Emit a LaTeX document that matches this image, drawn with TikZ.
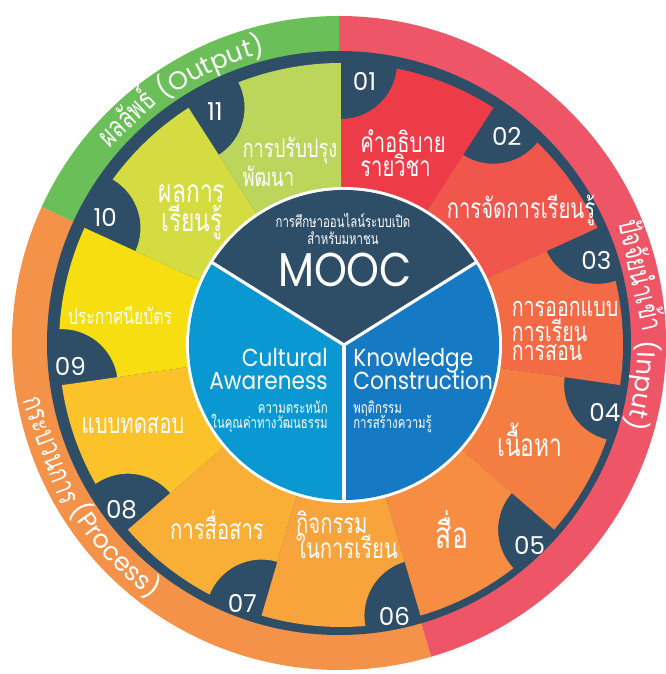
\documentclass[tikz,border=0pt]{standalone}
\usepackage{fontspec}
\setmainfont{Poppins}
\newfontfamily\thaifont[Script=Thai,FakeStretch=0.72]{Loma}
\newfontfamily\latinserre[FakeStretch=0.88]{Poppins}
\usetikzlibrary{decorations.text}

\definecolor{bleunuit}{HTML}{2E4D66}
\definecolor{vertsortie}{HTML}{6ABF58}
\definecolor{orangeproc}{HTML}{F39248}
\definecolor{rougeentree}{HTML}{EE5667}
\definecolor{sec1}{HTML}{EE3B48}
\definecolor{sec2}{HTML}{F0564B}
\definecolor{sec3}{HTML}{F26B45}
\definecolor{sec4}{HTML}{F47D41}
\definecolor{sec5}{HTML}{F68D43}
\definecolor{sec6}{HTML}{F8A33B}
\definecolor{sec7}{HTML}{F9AF36}
\definecolor{sec8}{HTML}{FBC22A}
\definecolor{sec9}{HTML}{F6DE10}
\definecolor{sec10}{HTML}{D5DC42}
\definecolor{sec11}{HTML}{BCD55B}
\definecolor{bleuclair}{HTML}{0A98D3}
\definecolor{bleufonce}{HTML}{1679C3}

\newcommand\anneauth{\thaifont\fontsize{17}{17}\selectfont\color{white}}
\newcommand\anneaulat{\normalfont\fontsize{14.5}{14.5}\selectfont\color{white}}

\tikzset{
    numero/.style={text=white, inner sep=0pt, yshift=-1.2mm, font=\fontsize{14}{14}\selectfont},
    etiquette/.style 2 args={text=white, inner sep=0pt, align=left, font=\thaifont\fontsize{#1}{#2}\selectfont},
    petit/.style={text=white, inner sep=0pt, font=\thaifont\fontsize{9}{9}\selectfont},
    titre/.style={text=white, inner sep=0pt, font=\latinserre\fontsize{14}{14}\selectfont}
}

\begin{document}
\begin{tikzpicture}[x=0.2mm, y=0.2mm]
    \useasboundingbox (-339,-331) rectangle (326,343);

    % Anneau extérieur
    \foreach \de/\a/\couleur in {90/155.45/vertsortie, 155.45/286.36/orangeproc, 286.36/450/rougeentree} {
        \fill[\couleur] (0,0) -- (\de:327) arc[start angle=\de, end angle=\a, radius=327] -- cycle;
    }
    \fill[bleunuit] (0,0) circle (292);

    % Textes de l'anneau
    \path[decorate, decoration={text along path, text align=center,
        text={|\anneauth|{ผลลัพธ์} |\anneaulat|(Output)}}]
        (150:299) arc[start angle=150, end angle=94, radius=299];
    \path[decorate, decoration={text along path, text align=center,
        text={|\anneauth|{ปัจจัยนำเข้า} |\anneaulat|(Input)}}]
        (32:299) arc[start angle=32, end angle=-25, radius=299];
    \path[decorate, decoration={text along path, text align=center,
        text={|\anneauth|{กระบวนการ} |\anneaulat|(Process)}}]
        (178:317) arc[start angle=178, end angle=246, radius=317];

    % Secteurs et numéros
    \begin{scope}[shift={(2,-2)}]
    \foreach \i/\num/\couleur in {1/01/sec1, 2/02/sec2, 3/03/sec3, 4/04/sec4, 5/05/sec5, 6/06/sec6,
                                  7/07/sec7, 8/08/sec8, 9/09/sec9, 10/10/sec10, 11/11/sec11} {
        \pgfmathsetmacro\angdeb{90-(\i-1)*360/11}
        \pgfmathsetmacro\angfin{\angdeb-360/11}
        \pgfmathsetmacro\ea{\angdeb+180}
        \pgfmathsetmacro\eb{\angdeb+264.3}
        \pgfmathsetmacro\ec{\angdeb-11.4}
        \pgfmathsetmacro\angnum{\angdeb-5}
        \fill[\couleur] (\angdeb:140) -- (\angdeb:226) arc[start angle=\ea, end angle=\eb, radius=56]
            arc[start angle=\ec, end angle=\angfin, radius=282] -- (\angfin:140)
            arc[start angle=\angfin, end angle=\angdeb, radius=140] -- cycle;
        \node[numero] (n\num) at (\angnum:271) {\num};
    }
    \end{scope}

    % Libellés des secteurs
    \node[etiquette={16}{11.5}] (l01) at (64,190) {คำอธิบาย\\รายวิชา};
    \node[etiquette={16}{12}] (l02) at (182,133) {การจัดการเรียนรู้};
    \node[etiquette={15.5}{10.8}] (l03) at (226,12) {การออกแบบ\\การเรียน\\การสอน};
    \node[etiquette={18}{12}] (l04) at (191,-97) {เนื้อหา};
    \node[etiquette={21}{12}] (l05) at (113,-187) {สื่อ};
    \node[etiquette={16}{14.5}] (l06) at (8,-192) {กิจกรรม\\ในการเรียน};
    \node[etiquette={16}{12}] (l07) at (-122,-182) {การสื่อสาร};
    \node[etiquette={16}{12}] (l08) at (-206,-82) {แบบทดสอบ};
    \node[etiquette={12.5}{12}] (l09) at (-219,28) {ประกาศนียบัตร};
    \node[etiquette={18}{15}, align=center] (l10) at (-147,131) {ผลการ\\เรียนรู้};
    \node[etiquette={14.5}{11}] (l11) at (-49,181) {การปรับปรุง\\พัฒนา};

    % Cercle central
    \fill[white] (5,-2) circle (158);
    \fill[bleunuit] (5,-2) -- ++(32:155) arc[start angle=32, end angle=148, radius=155] -- cycle;
    \fill[bleuclair] (5,-2) -- ++(148:155) arc[start angle=148, end angle=270, radius=155] -- cycle;
    \fill[bleufonce] (5,-2) -- ++(270:155) arc[start angle=270, end angle=392, radius=155] -- cycle;
    \foreach \ang in {32,148,270} {
        \draw[white, line width=1.8pt] (5,-2) -- ++(\ang:156);
    }

    % Textes du centre
    \node[petit] (mooc1) at (4,123) {การศึกษาออนไลน์ระบบเปิด};
    \node[petit] (mooc2) at (4,105) {สำหรับมหาชน};
    \node[text=white, inner sep=0pt, font=\latinserre\fontsize{27}{27}\selectfont] (mooc) at (6,73) {MOOC};
    \node[titre, anchor=base east] (cult) at (-11,-24) {Cultural};
    \node[titre, anchor=base east] (aware) at (-11,-47) {Awareness};
    \node[petit, anchor=base east] (cult1) at (-11,-71) {ความตระหนัก};
    \node[petit, anchor=base east] (cult2) at (-11,-86) {ในคุณค่าทางวัฒนธรรม};
    \node[titre, anchor=base west] (know) at (14,-24) {Knowledge};
    \node[titre, anchor=base west] (constr) at (14,-47) {Construction};
    \node[petit, anchor=base west] (know1) at (14,-71) {พฤติกรรม};
    \node[petit, anchor=base west] (know2) at (14,-86) {การสร้างความรู้};
\end{tikzpicture}
\end{document}
